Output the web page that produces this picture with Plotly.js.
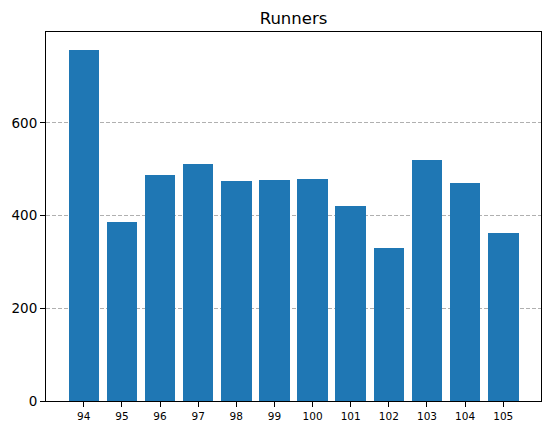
<!DOCTYPE html>
<html>
<head>
<meta charset="utf-8">
<script src="https://cdn.plot.ly/plotly-3.0.1.min.js"></script>
<style>html,body{margin:0;padding:0;background:#fff;}#chart{width:552px;height:431px;}</style>
</head>
<body>
<div id="chart"></div>
<script>
const categories = [94, 95, 96, 97, 98, 99, 100, 101, 102, 103, 104, 105];
const runners = [758, 386, 487, 512, 474, 476, 478, 420, 330, 519, 470, 362];
const yTicks = [0, 200, 400, 600];

const trace = {
  type: 'bar',
  x: categories,
  y: runners,
  width: 0.8,
  marker: {color: '#1f77b4', line: {width: 0}},
  hoverinfo: 'x+y'
};

const layout = {
  width: 552,
  height: 431,
  margin: {l: 46, r: 11, t: 32, b: 30, pad: 0},
  paper_bgcolor: '#ffffff',
  plot_bgcolor: '#ffffff',
  font: {family: 'DejaVu Sans', color: '#000000'},
  title: {
    text: 'Runners',
    font: {family: 'DejaVu Sans', size: 16.5, color: '#000000'},
    x: 0.5, xref: 'paper', xanchor: 'center',
    y: 1 - 18/431, yref: 'container', yanchor: 'middle'
  },
  showlegend: false,
  bargap: 0,
  xaxis: {
    range: [93.01, 105.99],
    tickmode: 'array',
    tickvals: categories,
    ticktext: categories.map(String),
    tickfont: {family: 'DejaVu Sans', size: 10.5, color: '#000000'},
    ticks: 'outside', ticklen: 5, tickwidth: 1, tickcolor: '#000000',
    showline: true, linecolor: '#000000', linewidth: 1, mirror: true,
    showgrid: false, zeroline: false
  },
  yaxis: {
    range: [0, 796],
    tickmode: 'array',
    tickvals: yTicks,
    ticktext: yTicks.map(String),
    tickfont: {family: 'DejaVu Sans', size: 13.5, color: '#000000'},
    ticks: 'outside', ticklen: 5, tickwidth: 1, tickcolor: '#000000',
    showline: true, linecolor: '#000000', linewidth: 1, mirror: true,
    showgrid: true, gridcolor: '#b0b0b0', gridwidth: 1, griddash: '4px,2px',
    zeroline: false
  }
};

Plotly.newPlot('chart', [trace], layout, {displayModeBar: false, staticPlot: true});
</script>
</body>
</html>
